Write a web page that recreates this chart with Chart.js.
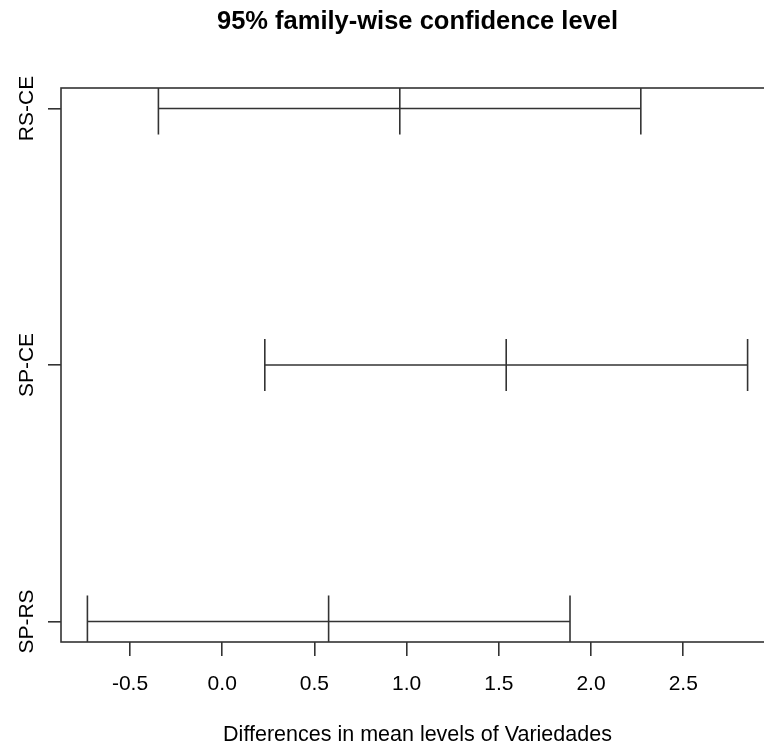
<!DOCTYPE html>
<html>
<head>
<meta charset="utf-8">
<title>Tukey HSD - Variedades</title>
<script src="https://cdn.jsdelivr.net/npm/chart.js@4"></script>
<style>
  html, body { margin: 0; padding: 0; background: #fff; overflow: hidden; }
  canvas { display: block; }
</style>
</head>
<body>
<canvas id="myChart" width="790" height="747"></canvas>
<script>
// Tukey HSD results, one row per comparison (top to bottom)
const comparaciones = ['RS-CE', 'SP-CE', 'SP-RS']
const diferencias = [0.963, 1.540, 0.577]
const inferiores = [-0.346, 0.231, -0.731]
const superiores = [2.270, 2.849, 1.886]
const niveles = [3, 2, 1]
const xTicks = [-0.5, 0.0, 0.5, 1.0, 1.5, 2.0, 2.5]

const FUENTE = "'Liberation Sans', Arial, Helvetica, sans-serif"
const LINEA = '#333'

// same 4% padding R adds around the data range
const xMin = Math.min(...inferiores)
const xMax = Math.max(...superiores)
const xPad = (xMax - xMin) * 0.04
const yPad = (Math.max(...niveles) - Math.min(...niveles)) * 0.04

const datasets = comparaciones.map((nombre, i) => ({
    label: nombre,
    data: [
        { x: inferiores[i], y: niveles[i] },
        { x: superiores[i], y: niveles[i] }
    ],
    borderColor: LINEA,
    borderWidth: 1.6,
    pointStyle: 'line',
    pointRotation: 90,
    pointRadius: 26,
    pointBorderColor: LINEA,
    pointBorderWidth: 1.6,
    clip: 0
}))

datasets.push({
    label: 'diff',
    data: comparaciones.map((_, i) => ({ x: diferencias[i], y: niveles[i] })),
    showLine: false,
    pointStyle: 'line',
    pointRotation: 90,
    pointRadius: 26,
    pointBorderColor: LINEA,
    pointBorderWidth: 1.6,
    clip: 0
})

// box around the plot region and the rotated y labels
const marco = {
    id: 'marco',
    afterDraw(chart) {
        const { ctx, chartArea } = chart
        const yScale = chart.scales.y
        ctx.save()
        ctx.strokeStyle = LINEA
        ctx.lineWidth = 1.6
        ctx.strokeRect(chartArea.left, chartArea.top,
            chartArea.right - chartArea.left, chartArea.bottom - chartArea.top)

        ctx.fillStyle = '#000'
        ctx.font = `21px ${FUENTE}`
        ctx.textAlign = 'center'
        ctx.textBaseline = 'alphabetic'
        comparaciones.forEach((nombre, i) => {
            const y = yScale.getPixelForValue(niveles[i])
            ctx.save()
            ctx.translate(33, y)
            ctx.rotate(-Math.PI / 2)
            ctx.fillText(nombre, 0, 0)
            ctx.restore()
        })
        ctx.restore()
    }
}

new Chart(document.getElementById('myChart').getContext('2d'), {
    type: 'line',
    data: { datasets },
    plugins: [marco],
    options: {
        responsive: false,
        animation: false,
        events: [],
        layout: {
            autoPadding: false,
            padding: { left: 0, right: 16, top: 0, bottom: 0 }
        },
        plugins: {
            legend: { display: false },
            tooltip: { enabled: false },
            title: {
                display: true,
                fullSize: false,
                text: '95% family-wise confidence level',
                color: '#000',
                font: { family: FUENTE, size: 25.5, weight: 'bold', lineHeight: 1.2 },
                padding: { top: 7, bottom: 50.4 }
            }
        },
        scales: {
            x: {
                type: 'linear',
                position: 'bottom',
                min: xMin - xPad,
                max: xMax + xPad,
                afterBuildTicks: scale => {
                    scale.ticks = xTicks.map(v => ({ value: v }))
                },
                afterFit: scale => {
                    scale.height = 105
                    scale.paddingLeft = 0
                    scale.paddingRight = 0
                },
                border: { display: false },
                grid: {
                    drawOnChartArea: false,
                    drawTicks: true,
                    tickLength: 14,
                    color: LINEA,
                    lineWidth: 1.6
                },
                ticks: {
                    autoSkip: false,
                    maxRotation: 0,
                    color: '#000',
                    padding: 16,
                    font: { family: FUENTE, size: 21 },
                    callback: v => v.toFixed(1)
                },
                title: {
                    display: true,
                    text: 'Differences in mean levels of Variedades',
                    color: '#000',
                    font: { family: FUENTE, size: 21.5 },
                    padding: { top: 0, bottom: -1 }
                }
            },
            y: {
                type: 'linear',
                position: 'left',
                min: Math.min(...niveles) - yPad,
                max: Math.max(...niveles) + yPad,
                afterBuildTicks: scale => {
                    scale.ticks = niveles.map(v => ({ value: v }))
                },
                afterFit: scale => { scale.width = 61 },
                border: { display: false },
                grid: {
                    drawOnChartArea: false,
                    drawTicks: true,
                    tickLength: 13,
                    color: LINEA,
                    lineWidth: 1.6
                },
                ticks: { display: false }
            }
        }
    }
})
</script>
</body>
</html>
